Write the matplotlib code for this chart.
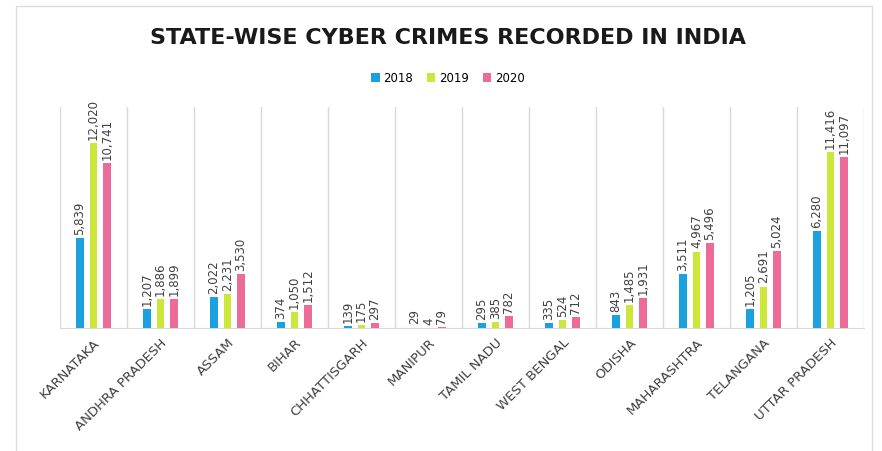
import numpy as np
import matplotlib.pyplot as plt
from matplotlib.patches import Rectangle

# datos
estados = ['KARNATAKA', 'ANDHRA PRADESH', 'ASSAM', 'BIHAR', 'CHHATTISGARH', 'MANIPUR',
           'TAMIL NADU', 'WEST BENGAL', 'ODISHA', 'MAHARASHTRA', 'TELANGANA', 'UTTAR PRADESH']
anios = ['2018', '2019', '2020']
v2018 = [5839, 1207, 2022, 374, 139, 29, 295, 335, 843, 3511, 1205, 6280]
v2019 = [12020, 1886, 2231, 1050, 175, 4, 385, 524, 1485, 4967, 2691, 11416]
v2020 = [10741, 1899, 3530, 1512, 297, 79, 782, 712, 1931, 5496, 5024, 11097]
colores = ['#1ba1dd', '#cde63a', '#ec6b98']

fig = plt.figure(figsize=(8.82, 4.51), dpi=100)
# marco gris alrededor del grafico
fig.patches.append(Rectangle((16 / 882, -0.05), 856 / 882, 1.05 - 6 / 451, transform=fig.transFigure,
                             fill=False, edgecolor='#dddddd', linewidth=1))
ax = fig.add_axes([60 / 882, 1 - 328 / 451, 804 / 882, 221 / 451])

x = np.arange(len(estados))
series = [v2018, v2019, v2020]
ancho = 0.11
for i, (serie, color, anio) in enumerate(zip(series, colores, anios)):
    pos = x + (i - 1) * 0.2
    ax.bar(pos, serie, width=ancho, color=color, label=anio, zorder=3)
    for px, val in zip(pos, serie):
        ax.text(px, val + 200, f'{val:,}', rotation=90, ha='center', va='bottom',
                fontsize=8.5, color='#404040')

ax.set_xlim(-0.5, len(estados) - 0.5)
ax.set_ylim(0, 14350)
ax.set_yticks([])
ax.set_xticks(x)
ax.set_xticklabels(estados, rotation=45, ha='right', va='top', rotation_mode='anchor',
                   fontsize=9.5, color='#404040')
ax.tick_params(axis='x', length=0, pad=6)
ax.set_xticks(np.arange(-0.5, len(estados), 1), minor=True)
ax.tick_params(axis='x', which='minor', length=0)
ax.grid(axis='x', which='minor', color='#d9d9d9', linewidth=1, zorder=0)
ax.grid(axis='x', which='major', visible=False)
for s in ['top', 'right', 'left']:
    ax.spines[s].set_visible(False)
ax.spines['bottom'].set_color('#d9d9d9')

fig.text(0.508, 1 - 38 / 451, 'STATE-WISE CYBER CRIMES RECORDED IN INDIA', ha='center', va='center',
         fontsize=16, fontweight='bold', color='#1a1a1a', family='DejaVu Sans')
fig.legend(loc='center', bbox_to_anchor=(0.508, 1 - 78 / 451), ncol=3, frameon=False,
           fontsize=8.5, handlelength=0.7, handleheight=0.7, handletextpad=0.3, columnspacing=1.2)

plt.savefig('out.png')
